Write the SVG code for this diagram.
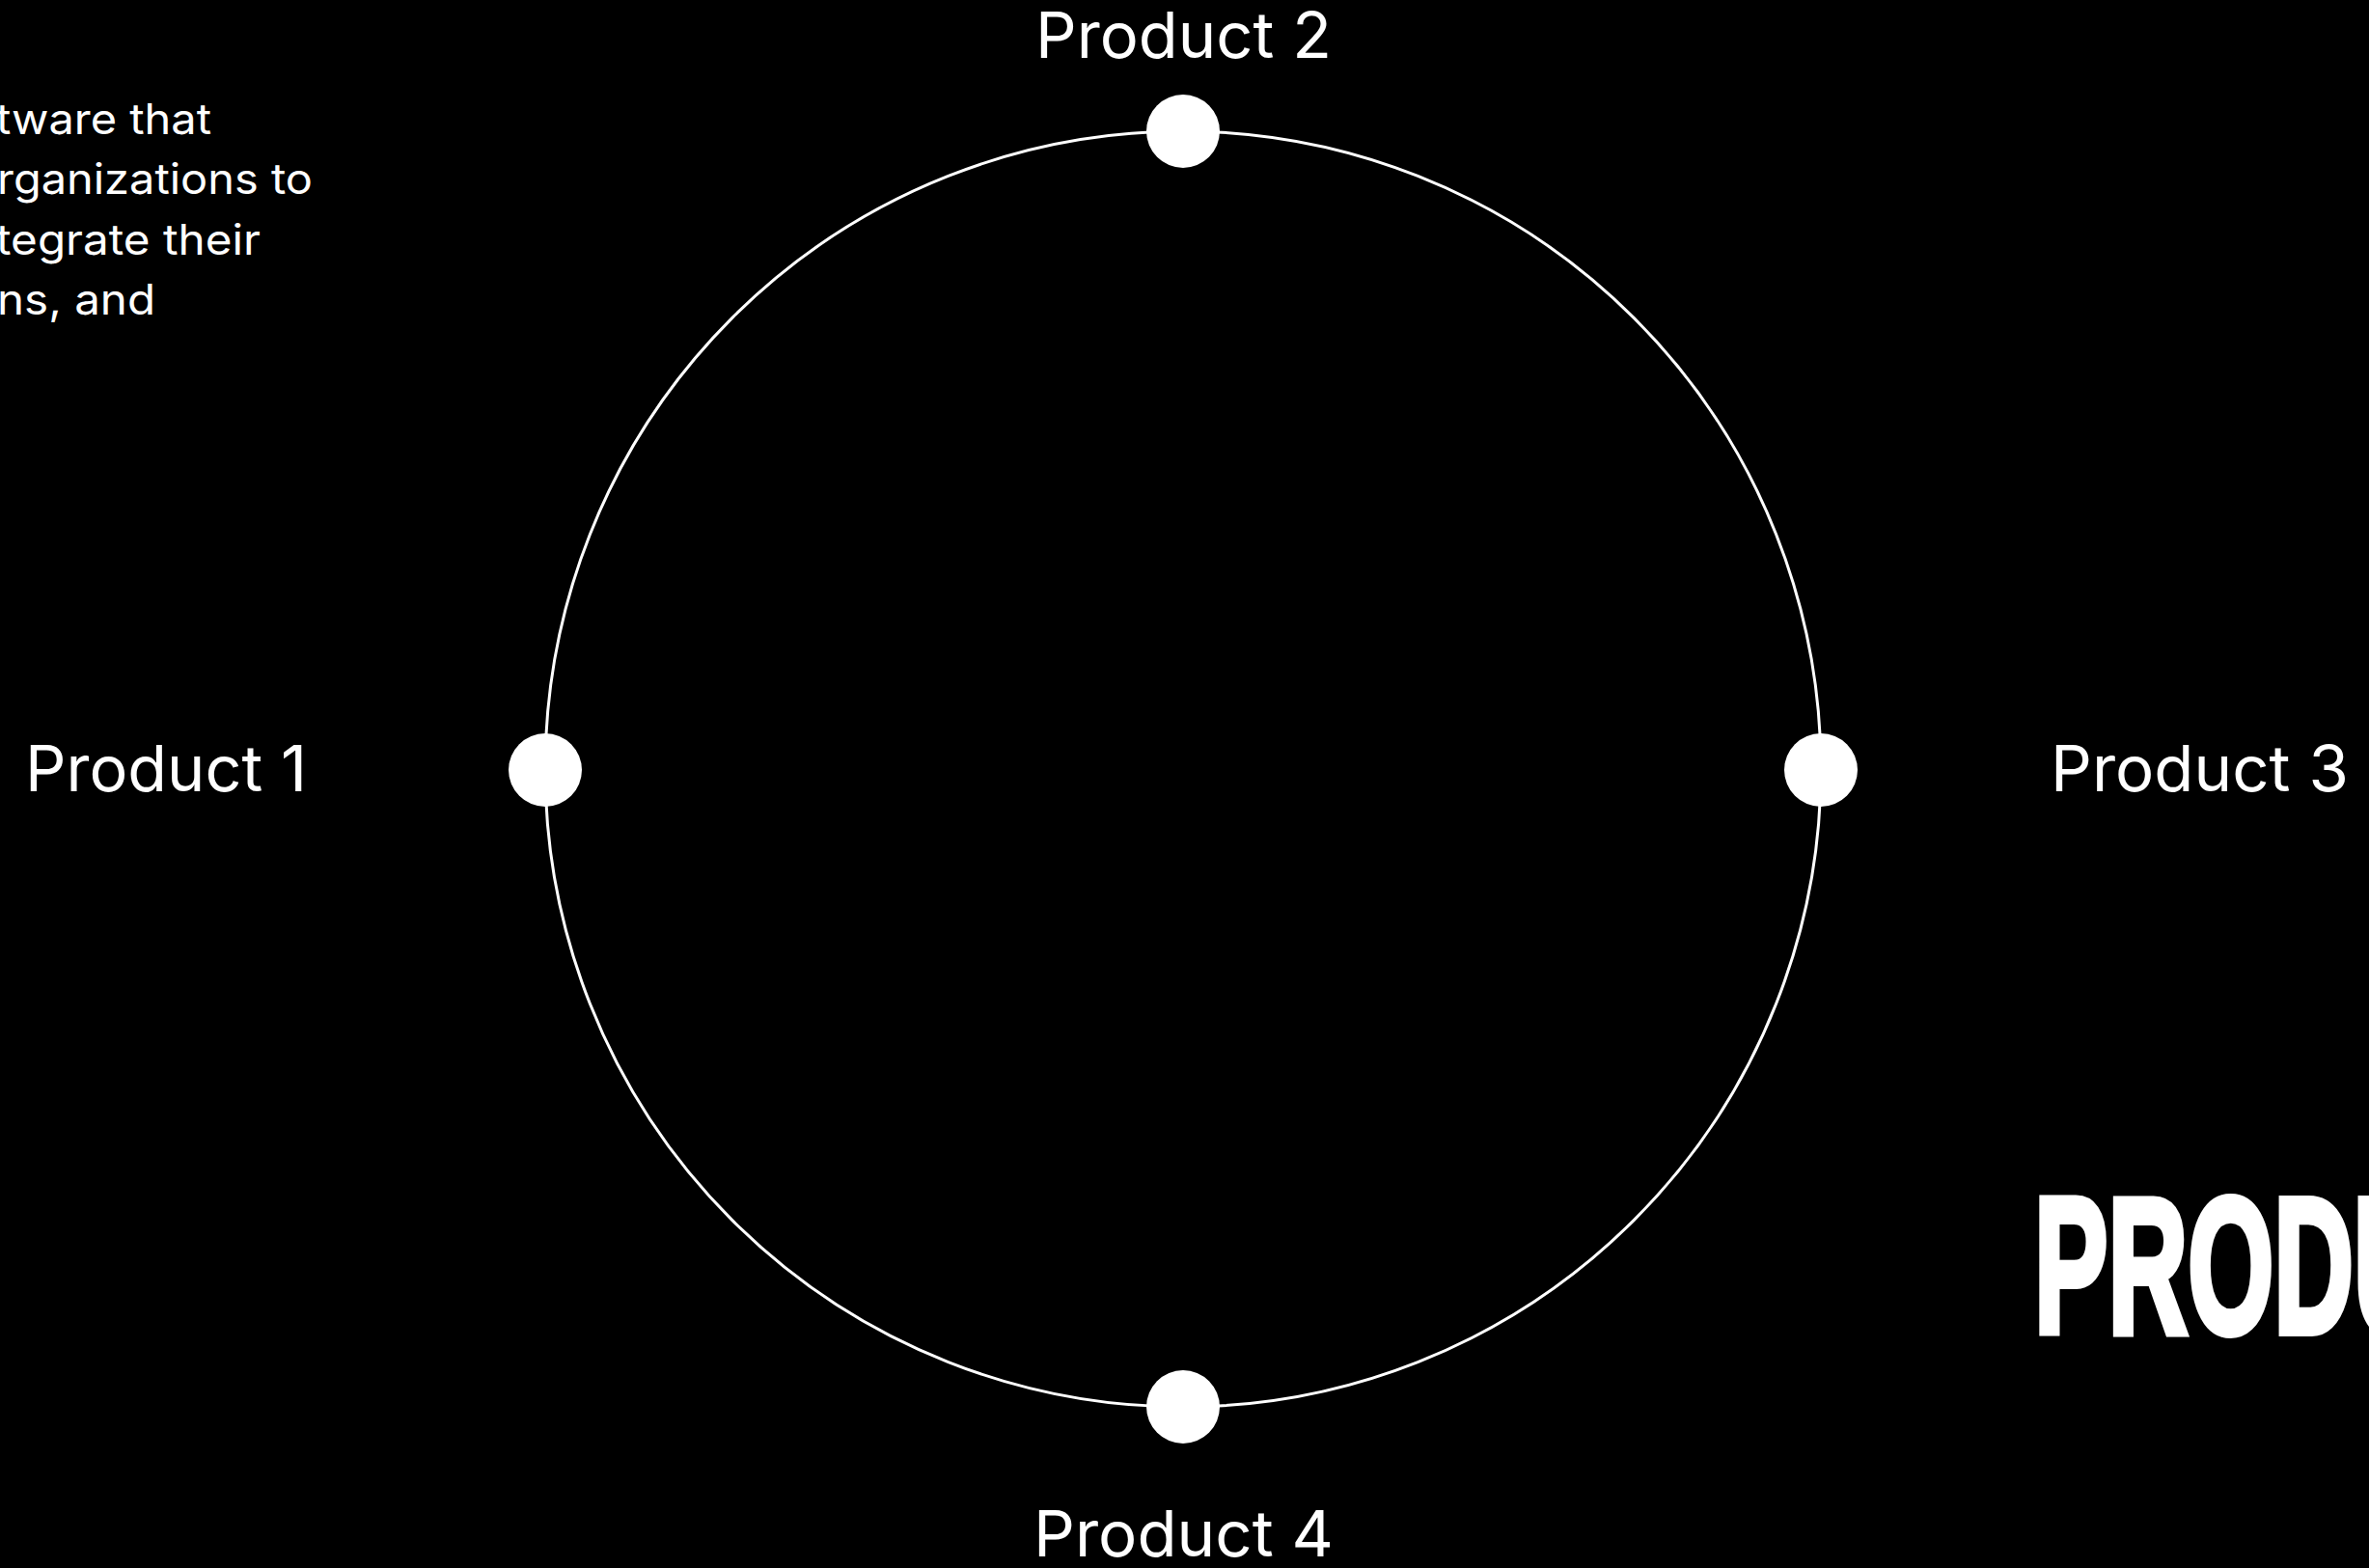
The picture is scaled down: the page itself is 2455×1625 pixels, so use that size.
<svg xmlns="http://www.w3.org/2000/svg" width="2455" height="1625" viewBox="0 0 2455 1625">
<style>
.bg{fill:#000}
.ring{fill:none;stroke:#fff;stroke-width:3}
.dot{fill:#fff}
.lbl{fill:#fff;font-family:Inter,"Noto Sans","Liberation Sans",sans-serif;font-size:66px}
.para{fill:#fff;font-family:Inter,"Noto Sans","Liberation Sans",sans-serif;font-size:44px}
.title{fill:#fff;stroke:#fff;stroke-width:8;stroke-linejoin:miter;font-family:"Liberation Sans","DejaVu Sans",sans-serif;font-weight:bold;font-size:201px}
</style>
<rect class="bg" x="0" y="0" width="2455" height="1625"/>
<g id="intro-text">
<text class="para" x="-4" y="139" textLength="223" lengthAdjust="spacingAndGlyphs">tware that</text>
<text class="para" x="-3" y="201" textLength="327" lengthAdjust="spacingAndGlyphs">rganizations to</text>
<text class="para" x="-4" y="264" textLength="274" lengthAdjust="spacingAndGlyphs">tegrate their</text>
<text class="para" x="-3" y="326" textLength="164" lengthAdjust="spacingAndGlyphs">ns, and</text>
</g>
<g id="connectors">
<path class="ring" d="M565 797 A661 661 0 0 1 1226 136"/>
<path class="ring" d="M1226 136 A661 661 0 0 1 1887 797"/>
<path class="ring" d="M1887 797 A661 661 0 0 1 1226 1458"/>
<path class="ring" d="M1226 1458 A661 661 0 0 1 565 797"/>
</g>
<g id="product-1">
<circle class="dot" cx="565" cy="798" r="38"/>
<text class="lbl" x="26" y="820" textLength="292" lengthAdjust="spacingAndGlyphs">Product 1</text>
</g>
<g id="product-2">
<circle class="dot" cx="1226" cy="136" r="38"/>
<text class="lbl" x="1073" y="60" textLength="307" lengthAdjust="spacingAndGlyphs">Product 2</text>
</g>
<g id="product-3">
<circle class="dot" cx="1887" cy="798" r="38"/>
<text class="lbl" x="2125" y="820" textLength="309" lengthAdjust="spacingAndGlyphs">Product 3</text>
</g>
<g id="product-4">
<circle class="dot" cx="1226" cy="1458" r="38"/>
<text class="lbl" x="1071" y="1613" textLength="311" lengthAdjust="spacingAndGlyphs">Product 4</text>
</g>
<g id="title">
<text class="title" transform="translate(2108,1381) scale(0.57,1)">PRODUCTS</text>
</g>
</svg>
